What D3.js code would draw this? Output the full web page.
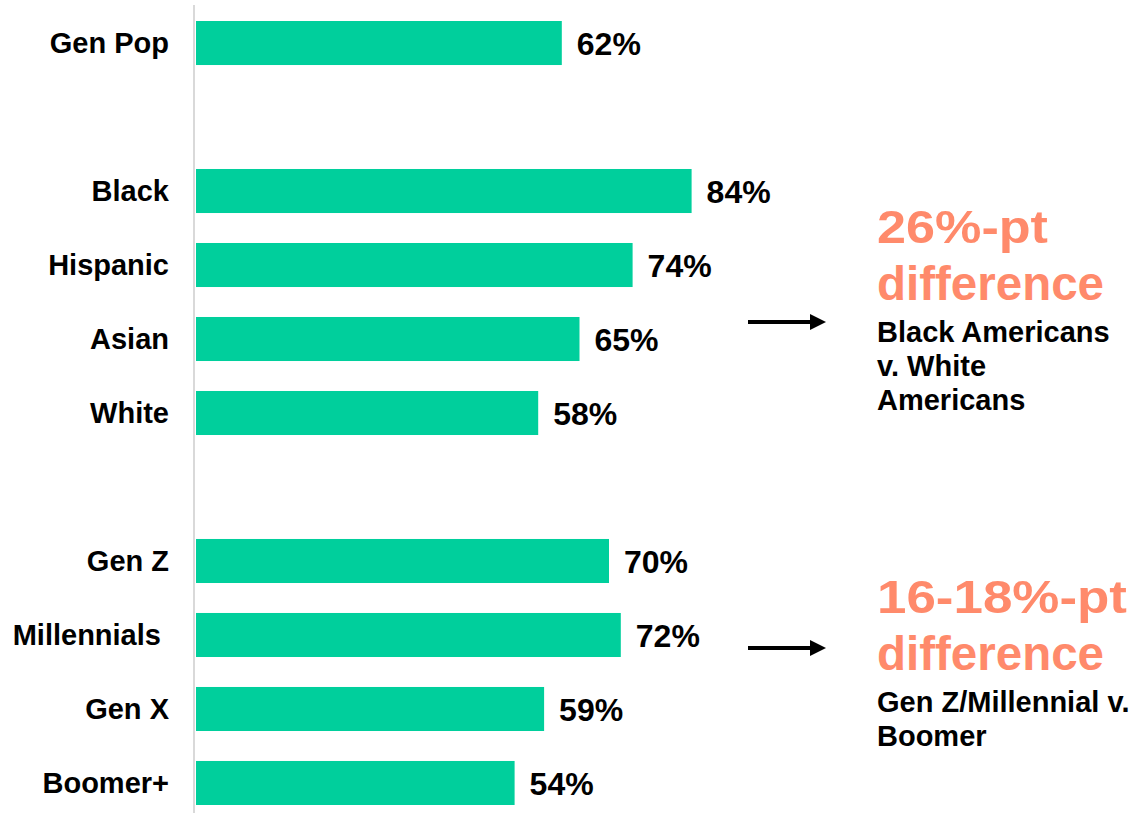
<!DOCTYPE html>
<html>
<head>
<meta charset="utf-8">
<script src="https://cdn.jsdelivr.net/npm/d3@7"></script>
<style>
  body { margin: 0; background: #fff; }
  text { font-family: "Liberation Sans", Arial, sans-serif; font-weight: bold; }
</style>
</head>
<body>
<div id="chart"></div>
<script>
// Data
const categories = ["Gen Pop", "Black", "Hispanic", "Asian", "White", "Gen Z", "Millennials", "Gen X", "Boomer+"];
const values = [62, 84, 74, 65, 58, 70, 72, 59, 54];
const groupBreaks = ["Black", "Gen Z"]; // an empty row sits before each of these
const noteHeads = ["26%-pt", "16-18%-pt"];
const noteSubs = [["Black Americans", "v. White", "Americans"], ["Gen Z/Millennial v.", "Boomer"]];

const width = 1133;
const height = 813;
const barColor = "#00cf9c";
const noteColor = "#ff8a6b";

const svg = d3.select("#chart")
    .append("svg")
    .attr("width", width)
    .attr("height", height);

// row order with spacer rows
const rows = [];
categories.forEach(c => {
    if (groupBreaks.includes(c)) rows.push("gap-" + c);
    rows.push(c);
});

const y = d3.scaleBand()
    .domain(rows)
    .range([6, 6 + 74 * rows.length])
    .paddingInner(0.405)
    .paddingOuter(0.2027);

const x = d3.scaleLinear()
    .domain([0, 100])
    .range([196, 786]);

// Left axis with category labels
const axis = d3.axisLeft(y)
    .tickSize(0)
    .tickPadding(25)
    .tickFormat(d => d.startsWith("gap-") ? "" : d);

const axisG = svg.append("g")
    .attr("transform", "translate(194,0)")
    .call(axis);

axisG.select(".domain")
    .attr("d", "M0,5V813")
    .attr("stroke", "#d9d9d9")
    .attr("stroke-width", 2);

axisG.selectAll(".tick text")
    .attr("font-size", 29)
    .attr("fill", "#000")
    .attr("dy", "0.34em")
    .style("white-space", "pre")
    .text(d => d === "Millennials" ? "Millennials " : (d.startsWith("gap-") ? "" : d));

// Bars
const data = categories.map((c, i) => ({ cat: c, val: values[i] }));

svg.append("g")
    .selectAll("rect")
    .data(data)
    .join("rect")
    .attr("x", x(0))
    .attr("y", d => y(d.cat))
    .attr("width", d => x(d.val) - x(0))
    .attr("height", y.bandwidth())
    .attr("fill", barColor);

svg.append("g")
    .selectAll("text")
    .data(data)
    .join("text")
    .attr("x", d => x(d.val) + 15)
    .attr("y", d => y(d.cat) + y.bandwidth() / 2 + 12)
    .attr("font-size", 32)
    .attr("fill", "#000")
    .text(d => d.val + "%");

// Annotations
svg.append("defs").append("marker")
    .attr("id", "arrow")
    .attr("viewBox", "0 0 10 10")
    .attr("refX", 0)
    .attr("refY", 5)
    .attr("markerWidth", 4)
    .attr("markerHeight", 4)
    .attr("markerUnits", "strokeWidth")
    .attr("orient", "auto")
    .append("path")
    .attr("d", "M0,0L10,5L0,10Z")
    .attr("fill", "#000");

const notes = [
    { head: noteHeads[0], headWidth: 171, sub: noteSubs[0], top: 243, arrowY: 322 },
    { head: noteHeads[1], headWidth: 250, sub: noteSubs[1], top: 613, arrowY: 648 }
];

notes.forEach(n => {
    svg.append("line")
        .attr("x1", 748)
        .attr("x2", 810)
        .attr("y1", n.arrowY)
        .attr("y2", n.arrowY)
        .attr("stroke", "#000")
        .attr("stroke-width", 4)
        .attr("marker-end", "url(#arrow)");

    svg.append("text")
        .attr("x", 877)
        .attr("y", n.top)
        .attr("font-size", 47)
        .attr("fill", noteColor)
        .attr("textLength", n.headWidth)
        .attr("lengthAdjust", "spacingAndGlyphs")
        .text(n.head);
    svg.append("text")
        .attr("x", 877)
        .attr("y", n.top + 57)
        .attr("font-size", 47.5)
        .attr("fill", noteColor)
        .text("difference");

    n.sub.forEach((s, i) => {
        svg.append("text")
            .attr("x", 877)
            .attr("y", n.top + 99 + i * 34)
            .attr("font-size", 29)
            .attr("fill", "#000")
            .text(s);
    });
});
</script>
</body>
</html>
